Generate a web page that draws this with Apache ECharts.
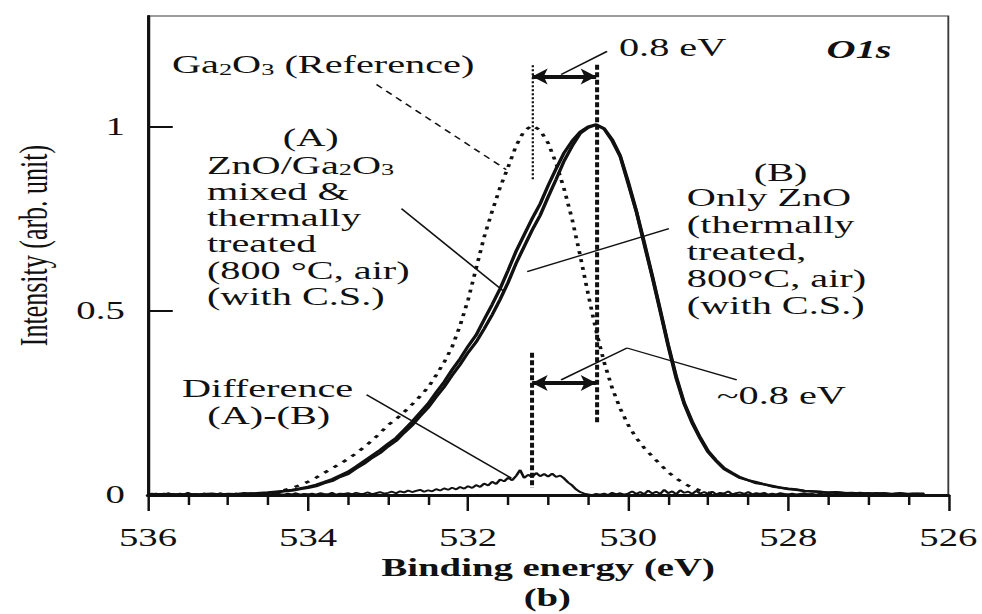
<!DOCTYPE html>
<html>
<head>
<meta charset="utf-8">
<script src="https://cdn.jsdelivr.net/npm/echarts@6/dist/echarts.min.js"></script>
<style>
  html, body { margin: 0; padding: 0; background: #fff; overflow: hidden; }
  #wrap { width: 982px; height: 614px; overflow: hidden; }
  /* the figure is laid out narrow and widened horizontally, like the printed plate */
  #chart { width: 634px; height: 614px; transform: scaleX(1.548896); transform-origin: 0 0; }
</style>
</head>
<body>
<div id="wrap"><div id="chart"></div></div>
<script>
// ---- O1s spectra, binding energy sampled downward from 536.0 eV ----
const START_EV = 536.0;
const MAIN_STEP = 0.1;    // spacing of the three main spectra
const DIFF_STEP = 0.05;   // spacing of the difference spectrum

// (B) Only ZnO, thermally treated 800 °C in air
const znoOnly = [
  0.002, 0.000, 0.003, 0.001, -0.001, 0.002, 0.000, 0.003, 0.001, 0.002,
  0.000, 0.003, 0.002, 0.004, 0.003, 0.006, 0.007, 0.010, 0.012, 0.016,
  0.019, 0.024, 0.032, 0.038, 0.049, 0.057, 0.072, 0.085, 0.101, 0.114,
  0.132, 0.147, 0.169, 0.189, 0.214, 0.237, 0.266, 0.293, 0.325, 0.354,
  0.387, 0.415, 0.451, 0.489, 0.531, 0.577, 0.629, 0.674, 0.719, 0.759,
  0.809, 0.857, 0.907, 0.947, 0.981, 0.997, 1.004, 0.993, 0.961, 0.919,
  0.845, 0.771, 0.681, 0.593, 0.499, 0.404, 0.317, 0.247, 0.195, 0.153,
  0.116, 0.092, 0.070, 0.058, 0.046, 0.040, 0.032, 0.029, 0.023, 0.020,
  0.016, 0.014, 0.011, 0.010, 0.008, 0.007, 0.008, 0.005, 0.006, 0.004,
  0.005, 0.003, 0.005, 0.002, 0.004, 0.003, 0.004, 0.002
];

// (A) ZnO/Ga2O3 mixed & thermally treated 800 °C in air
const znoGa2o3Mixed = [
  0.001, 0.003, 0.000, 0.002, 0.001, 0.003, 0.001, 0.002, 0.004, 0.001,
  0.003, 0.002, 0.005, 0.004, 0.006, 0.007, 0.009, 0.011, 0.014, 0.018,
  0.022, 0.028, 0.035, 0.043, 0.053, 0.063, 0.077, 0.092, 0.107, 0.122,
  0.139, 0.155, 0.177, 0.199, 0.224, 0.248, 0.278, 0.307, 0.340, 0.370,
  0.404, 0.434, 0.476, 0.517, 0.560, 0.610, 0.662, 0.706, 0.750, 0.790,
  0.840, 0.886, 0.929, 0.961, 0.986, 1.000, 1.006, 0.995, 0.965, 0.921,
  0.850, 0.772, 0.686, 0.596, 0.503, 0.408, 0.322, 0.250, 0.199, 0.156,
  0.119, 0.094, 0.073, 0.060, 0.048, 0.040, 0.035, 0.029, 0.025, 0.020,
  0.017, 0.015, 0.011, 0.010, 0.009, 0.006, 0.007, 0.006, 0.004, 0.006,
  0.003, 0.005, 0.004, 0.003, 0.005, 0.002, 0.003, 0.004
];

// Ga2O3 reference
const ga2o3Reference = [
  0.000, 0.000, 0.000, 0.000, 0.000, 0.000, 0.000, 0.000, 0.000, 0.000,
  0.001, 0.001, 0.002, 0.002, 0.003, 0.004, 0.008, 0.013, 0.019, 0.027,
  0.036, 0.047, 0.060, 0.072, 0.085, 0.098, 0.113, 0.130, 0.148, 0.168,
  0.190, 0.206, 0.225, 0.246, 0.268, 0.292, 0.325, 0.360, 0.402, 0.460,
  0.530, 0.615, 0.700, 0.770, 0.835, 0.890, 0.948, 0.988, 1.003, 0.990,
  0.955, 0.900, 0.830, 0.748, 0.650, 0.545, 0.445, 0.360, 0.290, 0.235,
  0.190, 0.155, 0.128, 0.105, 0.083, 0.062, 0.045, 0.031, 0.020, 0.012,
  0.007, 0.004, 0.002, 0.001, 0.001, 0.000, 0.001, 0.000, 0.000, 0.001,
  0.000, 0.000, 0.000, 0.001, 0.000, 0.000, 0.000, 0.000, 0.001, 0.000,
  0.000, 0.000, 0.000, 0.000, 0.000, 0.000, 0.000, 0.000
];

// Difference (A)-(B)
const differenceAB = [
  0.002, 0.004, 0.001, 0.003, 0.000, 0.005, 0.002, 0.001, 0.004, 0.002, 0.006, 0.001, 0.003, 0.000, 0.004, 0.002, 0.003, 0.001, 0.005, 0.002,
  0.003, 0.001, 0.004, 0.002, 0.000, 0.003, 0.005, 0.001, 0.002, 0.004, 0.001, 0.003, 0.006, 0.002, 0.001, 0.004, 0.002, 0.005, 0.001, 0.003,
  0.002, 0.004, 0.001, 0.005, 0.003, 0.002, 0.006, 0.001, 0.004, 0.003, 0.005, 0.002, 0.006, 0.003, 0.004, 0.007, 0.002, 0.005, 0.008, 0.004,
  0.006, 0.009, 0.005, 0.010, 0.007, 0.012, 0.008, 0.011, 0.014, 0.009, 0.013, 0.010, 0.016, 0.012, 0.018, 0.014, 0.020, 0.015, 0.022, 0.017,
  0.024, 0.019, 0.027, 0.022, 0.031, 0.026, 0.036, 0.030, 0.042, 0.037, 0.047, 0.040, 0.052, 0.068, 0.046, 0.055, 0.049, 0.060, 0.051, 0.057,
  0.050, 0.058, 0.049, 0.053, 0.045, 0.034, 0.026, 0.015, 0.008, 0.004, 0.002, 0.000, 0.003, 0.001, 0.004, 0.000, 0.006, 0.002, 0.005, 0.001,
  0.004, 0.010, 0.003, 0.008, 0.002, 0.012, 0.004, 0.009, 0.003, 0.014, 0.005, 0.010, 0.002, 0.013, 0.006, 0.009, 0.003, 0.011, 0.004, 0.008,
  0.003, 0.009, 0.002, 0.006, 0.004, 0.010, 0.002, 0.005, 0.007, 0.003, 0.008, 0.002, 0.005, 0.003, 0.006, 0.001, 0.004, 0.002, 0.005, 0.003,
  0.002, 0.004, 0.001, 0.003, 0.005, 0.002, 0.003, 0.001, 0.004, 0.002, 0.003, 0.000, 0.004, 0.002, 0.001, 0.003, 0.002, 0.004, 0.001, 0.002,
  0.003, 0.001, 0.002, 0.004, 0.001, 0.003, 0.002, 0.000, 0.003, 0.001, 0.002, 0.004, 0.001, 0.002, 0.003
];

// axis ticks
const energyTicks = { min: 526, max: 536, interval: 2 };
const intensityTicks = [0, 0.5, 1];

// peak positions marked on the plot (eV)
const peakGa2o3 = 531.2;
const peakZnO = 530.4;

const SERIF = '"Liberation Serif", "Times New Roman", serif';
const INK = '#111111';

const toPairs = (vals, step) => vals.map((v, i) => [+(START_EV - step * i).toFixed(2), v]);

// guide lines in data space: [from, to, style]
const thin = { color: INK, width: 1.3, type: 'solid' };
const guides = [
  [[533.145, 1.114], [531.524, 0.883], { color: INK, width: 1.3, type: [5, 4] }],
  [[532.833, 0.777], [531.549, 0.552], thin],
  [[529.491, 0.723], [531.262, 0.606], thin],
  [[533.269, 0.272], [531.461, 0.046], thin],
  [[530.838, 0.3125], [530.015, 0.399], thin],
  [[530.015, 0.399], [528.643, 0.3125], thin],
  [[530.264, 1.204], [530.838, 1.141], thin],
  [[peakGa2o3, 1.166], [peakGa2o3, 0.856], { color: INK, width: 1.5, type: [2, 2] }],
  [[peakZnO, 1.168], [peakZnO, 0.196], { color: INK, width: 2.6, type: [5, 2.5] }],
  [[peakGa2o3, 0.386], [peakGa2o3, 0.019], { color: INK, width: 2.6, type: [5, 2.5] }]
];
const arrows = [
  [[peakGa2o3, 1.136], [peakZnO, 1.136]],
  [[peakGa2o3, 0.304], [peakZnO, 0.304]]
];

const markLineData = guides.map(([a, b, st]) => [
  { coord: a, lineStyle: st }, { coord: b }
]).concat(arrows.map(([a, b]) => [
  { coord: a, symbol: 'arrow', symbolSize: [12, 10], lineStyle: { color: INK, width: 4, type: 'solid' } },
  { coord: b, symbol: 'arrow', symbolSize: [12, 10] }
]));

const chart = echarts.init(document.getElementById('chart'), null, { renderer: 'svg' });

chart.setOption({
  animation: false,
  backgroundColor: '#fff',
  grid: {
    left: 95.55, right: 20.7, top: 16, bottom: 119,
    show: true, borderColor: '#3a3a3a', borderWidth: 1.2, backgroundColor: 'transparent'
  },
  xAxis: {
    type: 'value', inverse: true,
    min: energyTicks.min, max: energyTicks.max, interval: energyTicks.interval,
    name: 'Binding energy (eV)', nameLocation: 'middle', nameGap: 42,
    nameTextStyle: { fontFamily: SERIF, fontSize: 25, fontWeight: 'bold', color: INK },
    axisLine: { show: true, onZero: false, lineStyle: { color: INK, width: 3 } },
    axisTick: { show: true, inside: false, length: 16, lineStyle: { color: INK, width: 1.6 } },
    minorTick: { show: true, splitNumber: 4, length: 10, lineStyle: { color: INK, width: 1.6 } },
    axisLabel: { fontFamily: SERIF, fontSize: 25, color: INK, margin: 30 },
    splitLine: { show: false }, minorSplitLine: { show: false }
  },
  yAxis: {
    type: 'value', min: 0, max: 1.3,
    name: 'Intensity (arb. unit)', nameLocation: 'middle', nameGap: 61,
    nameTextStyle: { fontFamily: SERIF, fontSize: 26, color: INK, padding: [0, 0, 0, 20] },
    axisLine: { show: true, lineStyle: { color: INK, width: 2 } },
    axisTick: { show: true, inside: true, length: 16, customValues: intensityTicks, lineStyle: { color: INK, width: 2 } },
    axisLabel: { fontFamily: SERIF, fontSize: 25, color: INK, margin: 15, customValues: intensityTicks },
    splitLine: { show: false }
  },
  series: [
    {
      name: 'Ga2O3 (Reference)', type: 'line', data: toPairs(ga2o3Reference, MAIN_STEP),
      showSymbol: false, symbol: 'none', silent: true, z: 2,
      lineStyle: { color: INK, width: 2.4, type: [3, 5] }
    },
    {
      name: '(A) ZnO/Ga2O3 mixed', type: 'line', data: toPairs(znoGa2o3Mixed, MAIN_STEP),
      showSymbol: false, symbol: 'none', silent: true, z: 3,
      lineStyle: { color: INK, width: 2.3 }
    },
    {
      name: '(B) Only ZnO', type: 'line', data: toPairs(znoOnly, MAIN_STEP),
      showSymbol: false, symbol: 'none', silent: true, z: 3,
      lineStyle: { color: INK, width: 2.3 }
    },
    {
      name: 'Difference (A)-(B)', type: 'line', data: toPairs(differenceAB, DIFF_STEP),
      showSymbol: false, symbol: 'none', silent: true, z: 3,
      lineStyle: { color: INK, width: 1.8 },
      markLine: {
        silent: true, symbol: 'none', animation: false,
        label: { show: false }, emphasis: { disabled: true },
        data: markLineData
      }
    }
  ]
});

// ---- text annotations, anchored in data space ----
const at = p => chart.convertToPixel({ xAxisIndex: 0, yAxisIndex: 0 }, p);
const sub = { fontFamily: SERIF, fontSize: 17, lineHeight: 12, verticalAlign: 'bottom', fill: INK };

function label(p, text, opts) {
  const [x, y] = at(p);
  const o = Object.assign({ size: 26, align: 'left', vAlign: 'middle', lh: 26, weight: 'normal', italic: false }, opts || {});
  return {
    type: 'text', x, y, silent: true, z: 10,
    style: {
      text, fill: INK, fontFamily: SERIF, fontSize: o.size,
      fontWeight: o.weight, fontStyle: o.italic ? 'italic' : 'normal',
      align: o.align, verticalAlign: o.vAlign, lineHeight: o.lh,
      rich: { sub }
    }
  };
}

chart.setOption({
  graphic: [
    label([535.70, 1.1685], 'Ga{sub|2}O{sub|3} (Reference)'),
    label([533.967, 0.972], '(A)', { align: 'center', lh: 20 }),
    label([535.264, 0.932],
      'ZnO/Ga{sub|2}O{sub|3}\nmixed &\nthermally\ntreated\n(800 °C, air)\n(with C.S.)',
      { vAlign: 'top', lh: 26.3 }),
    label([528.095, 0.877], '(B)', { align: 'center', lh: 20 }),
    label([529.267, 0.8438],
      'Only ZnO\n(thermally\ntreated,\n800°C, air)\n(with C.S.)',
      { vAlign: 'top', lh: 27 }),
    label([530.115, 1.2147], '0.8 eV'),
    label([527.521, 1.2092], 'O1s', { weight: 'bold', italic: true }),
    label([535.576, 0.2908], 'Difference'),
    label([534.491, 0.2174], '(A)-(B)', { align: 'center' }),
    label([528.893, 0.2717], '~0.8 eV'),
    label([531.01, -0.277], '(b)', { align: 'center', weight: 'bold', size: 25 })
  ]
});
</script>
</body>
</html>
